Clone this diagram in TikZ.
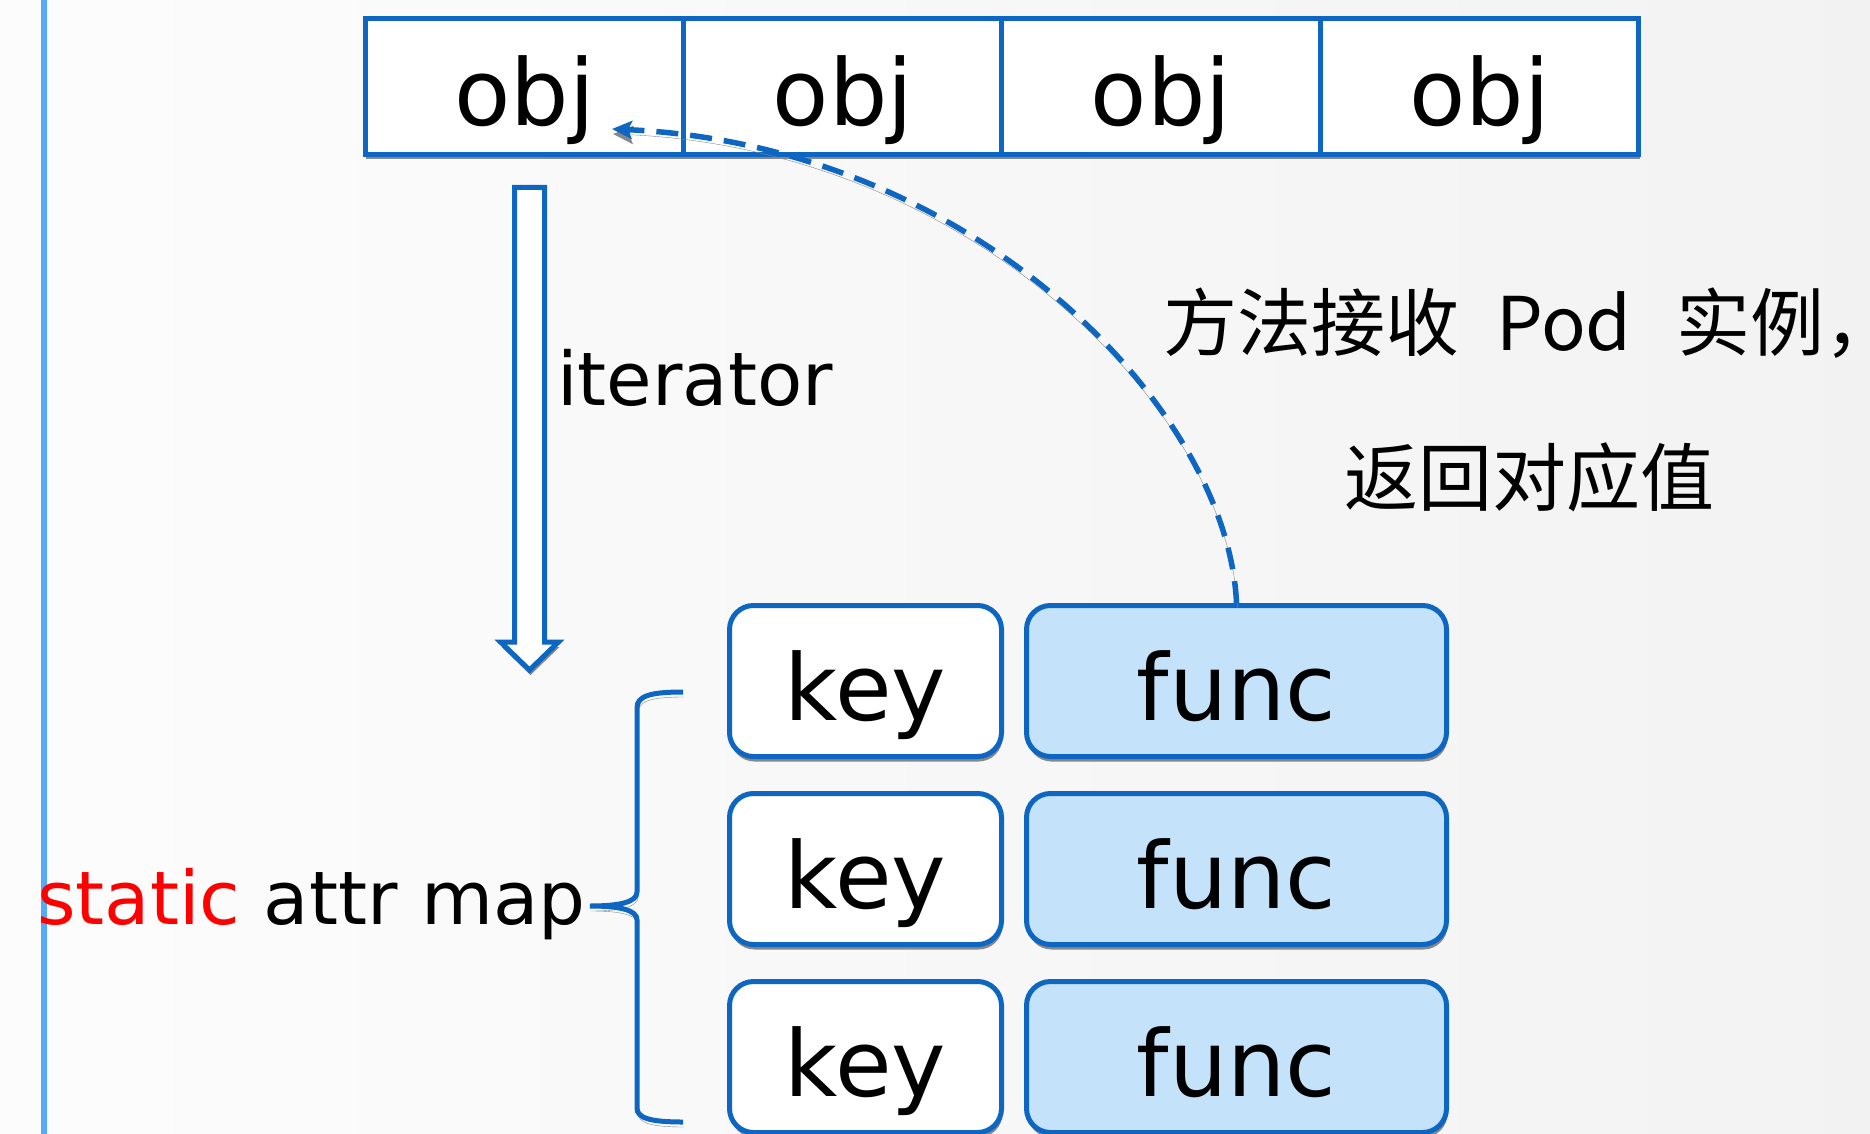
\documentclass[tikz,border=0pt]{standalone}
\usepackage{fontspec}
\setmainfont{DejaVu Sans}
\newfontfamily\cjk{Noto Sans CJK SC}
\usetikzlibrary{shadows,arrows.meta}
\definecolor{bblue}{RGB}{12,102,194}
\definecolor{ffill}{RGB}{197,226,251}
\definecolor{lline}{RGB}{85,170,250}
\definecolor{shgray}{RGB}{135,135,135}
\definecolor{redtxt}{RGB}{255,0,0}
\tikzset{
  bigtxt/.style={font=\fontsize{92pt}{110pt}\selectfont, text height=88pt, text depth=10pt, inner sep=0pt},
  midtxt/.style={font=\fontsize{74pt}{90pt}\selectfont, inner sep=0pt},
  cjktxt/.style={font=\cjk\fontsize{74pt}{90pt}\selectfont, inner sep=0pt},
  boxshadow/.style={drop shadow={shadow xshift=1pt, shadow yshift=-5pt, fill=shgray, opacity=1}},
  objbox/.style={bigtxt, draw=bblue, line width=5pt, fill=white, minimum width=318.25pt, minimum height=136pt, boxshadow},
  keybox/.style={bigtxt, draw=bblue, line width=5pt, fill=white, rounded corners=24pt, minimum width=272pt, minimum height=151pt, boxshadow},
  funcbox/.style={keybox, fill=ffill, minimum width=420pt},
  lineshadow/.style={preaction={draw=shgray, transform canvas={shift={(1pt,-5pt)}}}},
}
\begin{document}
\begin{tikzpicture}[x=1pt,y=-1pt]
\useasboundingbox (0,0) rectangle (1870,1134);
\fill[left color=white!99!black, right color=black!5] (0,0) rectangle (1870,1134);
% left vertical line
\draw[lline, line width=6pt] (44,-5) -- (44,1140);

% obj row
\node[objbox] (obj1) at (524.6,86.5) {obj};
\node[objbox] (obj2) at (842.9,86.5) {obj};
\node[objbox] (obj3) at (1161.1,86.5) {obj};
\node[objbox] (obj4) at (1479.4,86.5) {obj};

% hollow arrow
\path[draw=bblue, fill=white, line width=5pt, line join=miter, boxshadow]
  (514.5,187.5) -- (544.5,187.5) -- (544.5,642) -- (558.5,642) -- (529.5,670)
  -- (500.5,642) -- (514.5,642) -- cycle;
\node[midtxt, anchor=base west] (iter) at (557,405) {iterator};

% map rows
\node[keybox] (key1) at (865.5,681) {key};
\node[keybox] (key2) at (865.5,869) {key};
\node[keybox] (key3) at (865.5,1057) {key};
\node[funcbox] (func1) at (1236.5,681) {func};
\node[funcbox] (func2) at (1236.5,869) {func};
\node[funcbox] (func3) at (1236.5,1057) {func};

% label and brace
\node[midtxt, anchor=base west] (attrmap) at (37,924) {\textcolor{redtxt}{static} attr map};
\draw[bblue, line width=5pt, lineshadow]
  (683,692) .. controls (650,692) and (637,696) .. (637,708) -- (637,892)
  .. controls (637,902) and (620,906) .. (590,906)
  .. controls (620,906) and (637,910) .. (637,920) -- (637,1108)
  .. controls (637,1118) and (650,1122) .. (683,1122);

% dashed return arrow
\coordinate (tipend) at (612,129);
\draw[bblue, line width=5.5pt, dash pattern=on 22pt off 12pt, lineshadow,
  -{Stealth[length=20pt,width=18pt,inset=4pt]}]
  (func1.north) .. controls (1228,410) and (975,145) .. (tipend);

% chinese annotation
\node[cjktxt, anchor=base west] (note1) at (1163,350)
  {\makebox[333pt][l]{方法接收}\makebox[180pt][l]{Pod}实例\makebox[30pt][l]{，}};
\node[cjktxt, anchor=base] (note2) at (1529,505) {返回对应值};
\end{tikzpicture}
\end{document}
